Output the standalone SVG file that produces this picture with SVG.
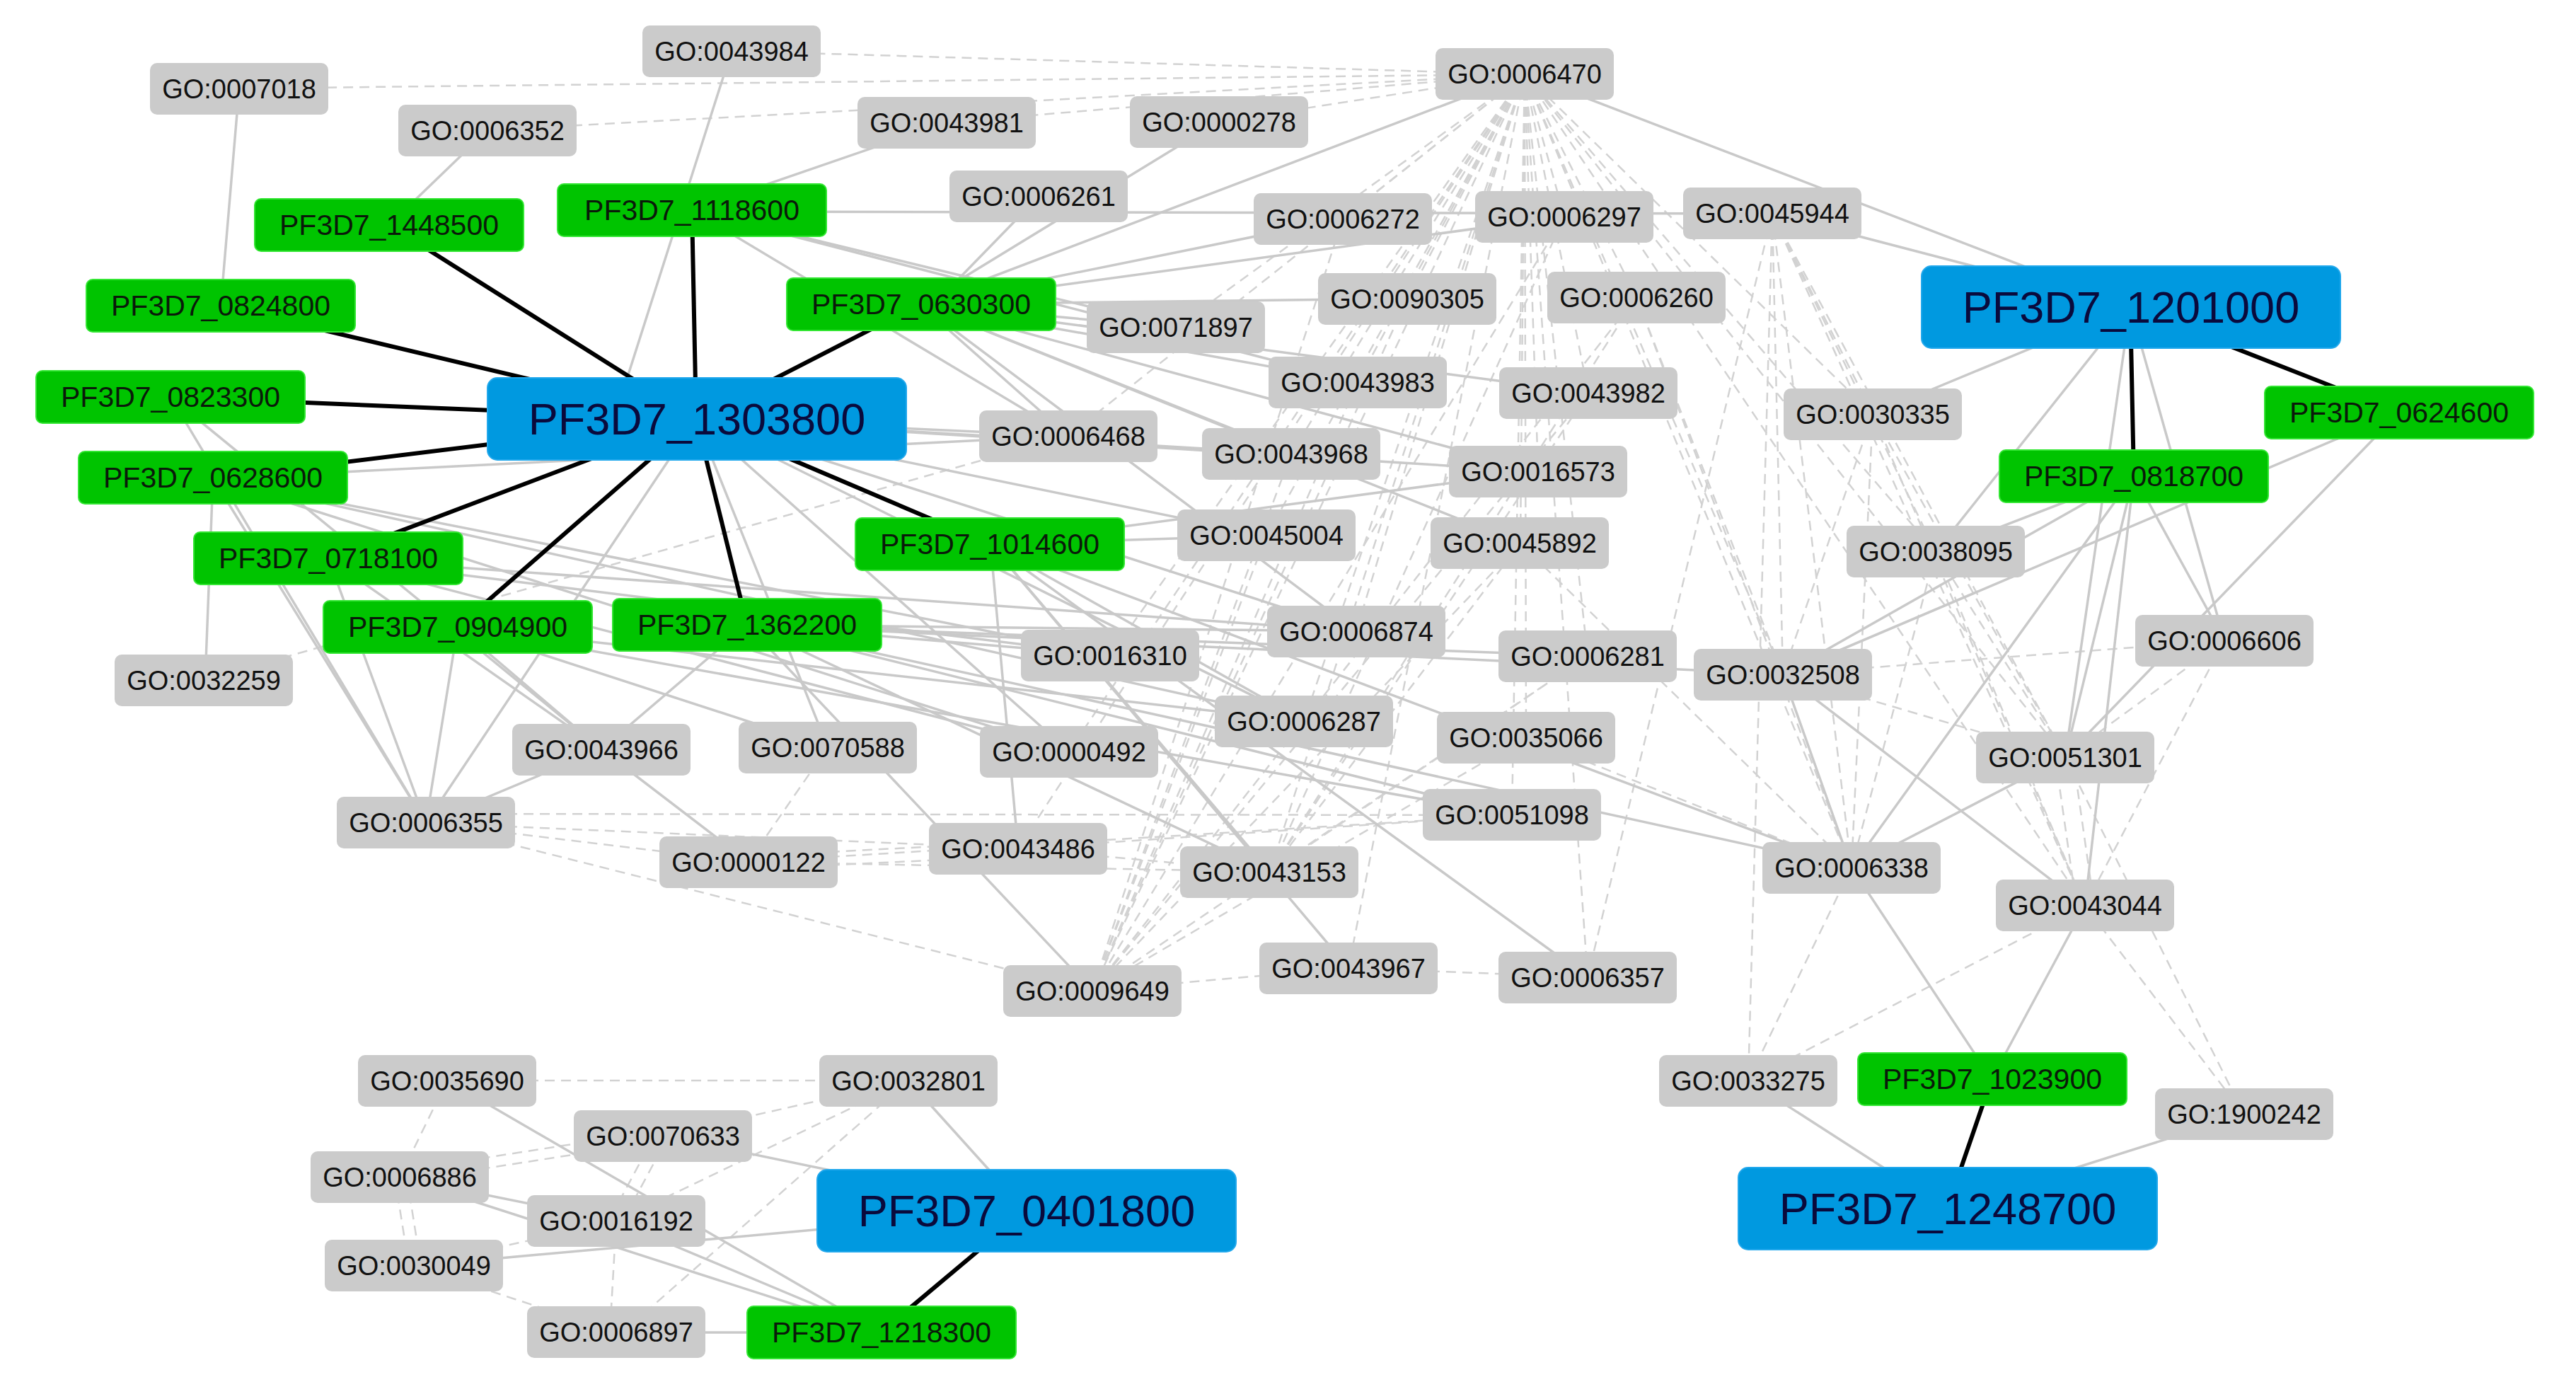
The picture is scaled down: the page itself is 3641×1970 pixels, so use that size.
<svg xmlns="http://www.w3.org/2000/svg" width="3641" height="1970" viewBox="0 0 3641 1970">
<style>
.s{stroke:#c9c9c9;stroke-width:3.5;fill:none}
.d{stroke:#d2d2d2;stroke-width:2.5;stroke-dasharray:14 9;fill:none}
.k{stroke:#000;stroke-width:6;fill:none}
.go rect{fill:#cbcbcb}
.go text{font-family:"Liberation Sans",Arial,sans-serif;font-size:38px;fill:#111;text-anchor:middle}
.gn rect{fill:#00c400;stroke:#33e633;stroke-width:2}
.gn text{font-family:"Liberation Sans",Arial,sans-serif;font-size:41px;fill:#0a1a0a;text-anchor:middle}
.bl rect{fill:#0099e0;stroke:#22a8ec;stroke-width:2}
.bl text{font-family:"Liberation Sans",Arial,sans-serif;font-size:63px;fill:#0a0a3c;text-anchor:middle}
</style>
<rect width="3641" height="1970" fill="#fff"/>
<g id="connectors">
<g id="dashed">
<line class="d" x1="2155" y1="105" x2="1034" y2="72"/>
<line class="d" x1="2155" y1="105" x2="338" y2="125"/>
<line class="d" x1="2155" y1="105" x2="689" y2="184"/>
<line class="d" x1="2155" y1="105" x2="1338" y2="173"/>
<line class="d" x1="2155" y1="105" x2="1722" y2="172"/>
<line class="d" x1="2155" y1="105" x2="1898" y2="309"/>
<line class="d" x1="2155" y1="105" x2="2211" y2="306"/>
<line class="d" x1="2155" y1="105" x2="1989" y2="422"/>
<line class="d" x1="2155" y1="105" x2="2313" y2="420"/>
<line class="d" x1="2155" y1="105" x2="1919" y2="540"/>
<line class="d" x1="2155" y1="105" x2="2245" y2="555"/>
<line class="d" x1="2155" y1="105" x2="2174" y2="666"/>
<line class="d" x1="2155" y1="105" x2="2149" y2="768"/>
<line class="d" x1="2155" y1="105" x2="1790" y2="757"/>
<line class="d" x1="2155" y1="105" x2="1917" y2="892"/>
<line class="d" x1="2155" y1="105" x2="2244" y2="927"/>
<line class="d" x1="2155" y1="105" x2="1843" y2="1019"/>
<line class="d" x1="2155" y1="105" x2="2157" y2="1042"/>
<line class="d" x1="2155" y1="105" x2="2137" y2="1152"/>
<line class="d" x1="2155" y1="105" x2="1795" y2="1232"/>
<line class="d" x1="2155" y1="105" x2="1439" y2="1199"/>
<line class="d" x1="2155" y1="105" x2="1544" y2="1400"/>
<line class="d" x1="2155" y1="105" x2="1906" y2="1368"/>
<line class="d" x1="2155" y1="105" x2="2244" y2="1381"/>
<line class="d" x1="2155" y1="105" x2="1510" y2="616"/>
<line class="d" x1="2155" y1="105" x2="1825" y2="641"/>
<line class="d" x1="2155" y1="105" x2="1569" y2="926"/>
<line class="d" x1="2155" y1="105" x2="1511" y2="1062"/>
<line class="d" x1="2155" y1="105" x2="2520" y2="953"/>
<line class="d" x1="2155" y1="105" x2="2617" y2="1226"/>
<line class="d" x1="2155" y1="105" x2="2919" y2="1070"/>
<line class="d" x1="2155" y1="105" x2="2647" y2="585"/>
<line class="d" x1="2155" y1="105" x2="2736" y2="780"/>
<line class="d" x1="2155" y1="105" x2="2947" y2="1280"/>
<line class="d" x1="2155" y1="105" x2="1662" y2="463"/>
<line class="d" x1="2505" y1="302" x2="2647" y2="585"/>
<line class="d" x1="2505" y1="302" x2="2520" y2="953"/>
<line class="d" x1="2505" y1="302" x2="2617" y2="1226"/>
<line class="d" x1="2505" y1="302" x2="2919" y2="1070"/>
<line class="d" x1="2505" y1="302" x2="2947" y2="1280"/>
<line class="d" x1="2505" y1="302" x2="2736" y2="780"/>
<line class="d" x1="2505" y1="302" x2="2471" y2="1527"/>
<line class="d" x1="2505" y1="302" x2="2244" y2="1381"/>
<line class="d" x1="1544" y1="1400" x2="1898" y2="309"/>
<line class="d" x1="1544" y1="1400" x2="2211" y2="306"/>
<line class="d" x1="1544" y1="1400" x2="1989" y2="422"/>
<line class="d" x1="1544" y1="1400" x2="2313" y2="420"/>
<line class="d" x1="1544" y1="1400" x2="1919" y2="540"/>
<line class="d" x1="1544" y1="1400" x2="2245" y2="555"/>
<line class="d" x1="1544" y1="1400" x2="2149" y2="768"/>
<line class="d" x1="1544" y1="1400" x2="1825" y2="641"/>
<line class="d" x1="1544" y1="1400" x2="2244" y2="927"/>
<line class="d" x1="1544" y1="1400" x2="1790" y2="757"/>
<line class="d" x1="1544" y1="1400" x2="2157" y2="1042"/>
<line class="d" x1="1795" y1="1232" x2="2211" y2="306"/>
<line class="d" x1="1795" y1="1232" x2="2313" y2="420"/>
<line class="d" x1="1795" y1="1232" x2="2245" y2="555"/>
<line class="d" x1="1795" y1="1232" x2="2149" y2="768"/>
<line class="d" x1="1795" y1="1232" x2="2244" y2="927"/>
<line class="d" x1="602" y1="1163" x2="1439" y2="1199"/>
<line class="d" x1="602" y1="1150" x2="2137" y2="1152"/>
<line class="d" x1="602" y1="1163" x2="1544" y2="1400"/>
<line class="d" x1="602" y1="1163" x2="1058" y2="1218"/>
<line class="d" x1="1058" y1="1210" x2="1439" y2="1190"/>
<line class="d" x1="1058" y1="1228" x2="1439" y2="1210"/>
<line class="d" x1="1058" y1="1218" x2="2137" y2="1152"/>
<line class="d" x1="1058" y1="1218" x2="1795" y2="1232"/>
<line class="d" x1="1439" y1="1199" x2="2137" y2="1152"/>
<line class="d" x1="1439" y1="1199" x2="1795" y2="1232"/>
<line class="d" x1="1544" y1="1400" x2="1906" y2="1368"/>
<line class="d" x1="1906" y1="1368" x2="2244" y2="1381"/>
<line class="d" x1="1170" y1="1056" x2="1058" y2="1218"/>
<line class="d" x1="288" y1="961" x2="1510" y2="616"/>
<line class="d" x1="2647" y1="585" x2="2617" y2="1226"/>
<line class="d" x1="2647" y1="585" x2="2947" y2="1280"/>
<line class="d" x1="2647" y1="585" x2="2919" y2="1070"/>
<line class="d" x1="2647" y1="585" x2="2520" y2="953"/>
<line class="d" x1="2520" y1="953" x2="3144" y2="905"/>
<line class="d" x1="2520" y1="953" x2="2919" y2="1070"/>
<line class="d" x1="3144" y1="905" x2="2919" y2="1070"/>
<line class="d" x1="3144" y1="905" x2="2947" y2="1280"/>
<line class="d" x1="2905" y1="1070" x2="2935" y2="1280"/>
<line class="d" x1="2930" y1="1070" x2="2960" y2="1280"/>
<line class="d" x1="2919" y1="1070" x2="2617" y2="1226"/>
<line class="d" x1="2471" y1="1527" x2="2617" y2="1226"/>
<line class="d" x1="2471" y1="1527" x2="2947" y2="1280"/>
<line class="d" x1="3172" y1="1575" x2="2947" y2="1280"/>
<line class="d" x1="3172" y1="1575" x2="2919" y2="1070"/>
<line class="d" x1="2736" y1="780" x2="2947" y2="1280"/>
<line class="d" x1="2736" y1="780" x2="2919" y2="1070"/>
<line class="d" x1="2736" y1="780" x2="2617" y2="1226"/>
<line class="d" x1="2313" y1="420" x2="2520" y2="953"/>
<line class="d" x1="2313" y1="420" x2="2617" y2="1226"/>
<line class="d" x1="2149" y1="768" x2="2617" y2="1226"/>
<line class="d" x1="2157" y1="1042" x2="2617" y2="1226"/>
<line class="d" x1="632" y1="1527" x2="1284" y2="1527"/>
<line class="d" x1="632" y1="1527" x2="565" y2="1664"/>
<line class="d" x1="565" y1="1655" x2="937" y2="1597"/>
<line class="d" x1="565" y1="1670" x2="937" y2="1612"/>
<line class="d" x1="558" y1="1664" x2="578" y2="1789"/>
<line class="d" x1="575" y1="1664" x2="595" y2="1789"/>
<line class="d" x1="585" y1="1789" x2="871" y2="1726"/>
<line class="d" x1="585" y1="1789" x2="871" y2="1883"/>
<line class="d" x1="925" y1="1605" x2="860" y2="1726"/>
<line class="d" x1="945" y1="1605" x2="880" y2="1726"/>
<line class="d" x1="1284" y1="1527" x2="937" y2="1605"/>
<line class="d" x1="1284" y1="1527" x2="871" y2="1726"/>
<line class="d" x1="1284" y1="1527" x2="880" y2="1883"/>
<line class="d" x1="871" y1="1726" x2="862" y2="1883"/>
</g>
<g id="solid">
<line class="s" x1="338" y1="125" x2="312" y2="432"/>
<line class="s" x1="689" y1="184" x2="550" y2="318"/>
<line class="s" x1="1034" y1="72" x2="883" y2="545"/>
<line class="s" x1="1338" y1="173" x2="978" y2="297"/>
<line class="s" x1="978" y1="299" x2="2505" y2="302"/>
<line class="s" x1="1300" y1="430" x2="2155" y2="105"/>
<line class="s" x1="1722" y1="172" x2="1300" y2="430"/>
<line class="s" x1="1468" y1="278" x2="1320" y2="430"/>
<line class="s" x1="1300" y1="430" x2="1898" y2="309"/>
<line class="s" x1="1300" y1="430" x2="2211" y2="306"/>
<line class="s" x1="1300" y1="430" x2="1989" y2="422"/>
<line class="s" x1="1300" y1="430" x2="1662" y2="463"/>
<line class="s" x1="1300" y1="430" x2="1919" y2="540"/>
<line class="s" x1="1300" y1="430" x2="2245" y2="555"/>
<line class="s" x1="1300" y1="430" x2="2174" y2="666"/>
<line class="s" x1="1300" y1="430" x2="1825" y2="641"/>
<line class="s" x1="1300" y1="430" x2="1917" y2="892"/>
<line class="s" x1="1300" y1="430" x2="1510" y2="616"/>
<line class="s" x1="1300" y1="430" x2="2149" y2="768"/>
<line class="s" x1="3011" y1="434" x2="2505" y2="302"/>
<line class="s" x1="3011" y1="434" x2="2155" y2="105"/>
<line class="s" x1="3011" y1="434" x2="2647" y2="585"/>
<line class="s" x1="3011" y1="434" x2="2736" y2="780"/>
<line class="s" x1="3011" y1="434" x2="2919" y2="1070"/>
<line class="s" x1="3011" y1="434" x2="3144" y2="905"/>
<line class="s" x1="3391" y1="583" x2="2919" y2="1070"/>
<line class="s" x1="3391" y1="583" x2="2520" y2="953"/>
<line class="s" x1="3016" y1="672" x2="2736" y2="780"/>
<line class="s" x1="3016" y1="672" x2="2520" y2="953"/>
<line class="s" x1="3016" y1="672" x2="2919" y2="1070"/>
<line class="s" x1="3016" y1="672" x2="2947" y2="1280"/>
<line class="s" x1="3016" y1="672" x2="3144" y2="905"/>
<line class="s" x1="3016" y1="672" x2="2617" y2="1226"/>
<line class="s" x1="2520" y1="953" x2="2617" y2="1226"/>
<line class="s" x1="2919" y1="1070" x2="2617" y2="1226"/>
<line class="s" x1="2520" y1="953" x2="2947" y2="1280"/>
<line class="s" x1="2815" y1="1525" x2="2617" y2="1226"/>
<line class="s" x1="2815" y1="1525" x2="2947" y2="1280"/>
<line class="s" x1="2752" y1="1708" x2="2471" y2="1527"/>
<line class="s" x1="2752" y1="1708" x2="3172" y2="1575"/>
<line class="s" x1="241" y1="561" x2="602" y2="1163"/>
<line class="s" x1="241" y1="561" x2="850" y2="1059"/>
<line class="s" x1="301" y1="676" x2="290" y2="961"/>
<line class="s" x1="301" y1="676" x2="602" y2="1163"/>
<line class="s" x1="301" y1="676" x2="1510" y2="616"/>
<line class="s" x1="301" y1="676" x2="1569" y2="926"/>
<line class="s" x1="301" y1="676" x2="1511" y2="1062"/>
<line class="s" x1="301" y1="676" x2="1843" y2="1019"/>
<line class="s" x1="464" y1="789" x2="602" y2="1163"/>
<line class="s" x1="464" y1="789" x2="850" y2="1059"/>
<line class="s" x1="464" y1="789" x2="1569" y2="926"/>
<line class="s" x1="464" y1="789" x2="1917" y2="892"/>
<line class="s" x1="464" y1="789" x2="1511" y2="1062"/>
<line class="s" x1="647" y1="886" x2="602" y2="1163"/>
<line class="s" x1="647" y1="886" x2="850" y2="1059"/>
<line class="s" x1="647" y1="886" x2="1170" y2="1056"/>
<line class="s" x1="647" y1="886" x2="2137" y2="1152"/>
<line class="s" x1="647" y1="886" x2="1843" y2="1019"/>
<line class="s" x1="1056" y1="883" x2="850" y2="1059"/>
<line class="s" x1="1056" y1="883" x2="1569" y2="926"/>
<line class="s" x1="1056" y1="883" x2="1917" y2="892"/>
<line class="s" x1="1056" y1="883" x2="2244" y2="927"/>
<line class="s" x1="1056" y1="883" x2="2520" y2="953"/>
<line class="s" x1="1056" y1="883" x2="2137" y2="1152"/>
<line class="s" x1="1056" y1="883" x2="2617" y2="1226"/>
<line class="s" x1="1056" y1="883" x2="1544" y2="1400"/>
<line class="s" x1="1056" y1="883" x2="1795" y2="1232"/>
<line class="s" x1="602" y1="1163" x2="850" y2="1059"/>
<line class="s" x1="850" y1="1059" x2="1058" y2="1218"/>
<line class="s" x1="984" y1="592" x2="1510" y2="616"/>
<line class="s" x1="984" y1="592" x2="1825" y2="641"/>
<line class="s" x1="984" y1="592" x2="1790" y2="757"/>
<line class="s" x1="984" y1="592" x2="2174" y2="666"/>
<line class="s" x1="984" y1="592" x2="1917" y2="892"/>
<line class="s" x1="984" y1="592" x2="1843" y2="1019"/>
<line class="s" x1="984" y1="592" x2="1511" y2="1062"/>
<line class="s" x1="984" y1="592" x2="1170" y2="1056"/>
<line class="s" x1="984" y1="592" x2="602" y2="1163"/>
<line class="s" x1="1400" y1="769" x2="1790" y2="757"/>
<line class="s" x1="1400" y1="769" x2="2174" y2="666"/>
<line class="s" x1="1400" y1="769" x2="1843" y2="1019"/>
<line class="s" x1="1400" y1="769" x2="2617" y2="1226"/>
<line class="s" x1="1400" y1="769" x2="1795" y2="1232"/>
<line class="s" x1="1400" y1="769" x2="1439" y2="1199"/>
<line class="s" x1="1400" y1="769" x2="2244" y2="1381"/>
<line class="s" x1="1400" y1="769" x2="1906" y2="1368"/>
<line class="s" x1="978" y1="297" x2="1662" y2="463"/>
<line class="s" x1="978" y1="297" x2="1510" y2="616"/>
<line class="s" x1="978" y1="297" x2="1919" y2="540"/>
<line class="s" x1="632" y1="1527" x2="1245" y2="1883"/>
<line class="s" x1="565" y1="1664" x2="871" y2="1726"/>
<line class="s" x1="565" y1="1664" x2="1245" y2="1883"/>
<line class="s" x1="585" y1="1789" x2="1450" y2="1711"/>
<line class="s" x1="937" y1="1605" x2="1450" y2="1711"/>
<line class="s" x1="871" y1="1883" x2="1245" y2="1883"/>
<line class="s" x1="1284" y1="1527" x2="1450" y2="1711"/>
<line class="s" x1="871" y1="1726" x2="1245" y2="1883"/>
</g>
<g id="black">
<line class="k" x1="984" y1="592" x2="550" y2="318"/>
<line class="k" x1="984" y1="592" x2="978" y2="297"/>
<line class="k" x1="984" y1="592" x2="312" y2="432"/>
<line class="k" x1="984" y1="592" x2="241" y2="561"/>
<line class="k" x1="984" y1="592" x2="301" y2="676"/>
<line class="k" x1="984" y1="592" x2="464" y2="789"/>
<line class="k" x1="984" y1="592" x2="647" y2="886"/>
<line class="k" x1="984" y1="592" x2="1056" y2="883"/>
<line class="k" x1="984" y1="592" x2="1400" y2="769"/>
<line class="k" x1="984" y1="592" x2="1300" y2="430"/>
<line class="k" x1="3011" y1="434" x2="3391" y2="583"/>
<line class="k" x1="3011" y1="434" x2="3016" y2="672"/>
<line class="k" x1="1450" y1="1711" x2="1245" y2="1883"/>
<line class="k" x1="2752" y1="1708" x2="2815" y2="1525"/>
</g>
</g>
<g id="nodes">
<g id="GO_0043984" class="go"><rect x="908" y="36" width="252" height="73" rx="10"/><text x="1034" y="86">GO:0043984</text></g>
<g id="GO_0007018" class="go"><rect x="212" y="89" width="252" height="73" rx="10"/><text x="338" y="139">GO:0007018</text></g>
<g id="GO_0006352" class="go"><rect x="563" y="148" width="252" height="73" rx="10"/><text x="689" y="198">GO:0006352</text></g>
<g id="GO_0043981" class="go"><rect x="1212" y="137" width="252" height="73" rx="10"/><text x="1338" y="187">GO:0043981</text></g>
<g id="GO_0000278" class="go"><rect x="1597" y="136" width="252" height="73" rx="10"/><text x="1723" y="186">GO:0000278</text></g>
<g id="GO_0006470" class="go"><rect x="2029" y="68" width="252" height="73" rx="10"/><text x="2155" y="118">GO:0006470</text></g>
<g id="GO_0006261" class="go"><rect x="1342" y="241" width="252" height="73" rx="10"/><text x="1468" y="291">GO:0006261</text></g>
<g id="GO_0006272" class="go"><rect x="1772" y="273" width="252" height="73" rx="10"/><text x="1898" y="323">GO:0006272</text></g>
<g id="GO_0006297" class="go"><rect x="2085" y="270" width="252" height="73" rx="10"/><text x="2211" y="320">GO:0006297</text></g>
<g id="GO_0045944" class="go"><rect x="2379" y="265" width="252" height="73" rx="10"/><text x="2505" y="315">GO:0045944</text></g>
<g id="GO_0090305" class="go"><rect x="1863" y="386" width="252" height="73" rx="10"/><text x="1989" y="436">GO:0090305</text></g>
<g id="GO_0006260" class="go"><rect x="2187" y="384" width="252" height="73" rx="10"/><text x="2313" y="434">GO:0006260</text></g>
<g id="GO_0071897" class="go"><rect x="1536" y="426" width="252" height="73" rx="10"/><text x="1662" y="476">GO:0071897</text></g>
<g id="GO_0043983" class="go"><rect x="1793" y="504" width="252" height="73" rx="10"/><text x="1919" y="554">GO:0043983</text></g>
<g id="GO_0043982" class="go"><rect x="2119" y="519" width="252" height="73" rx="10"/><text x="2245" y="569">GO:0043982</text></g>
<g id="GO_0030335" class="go"><rect x="2521" y="549" width="252" height="73" rx="10"/><text x="2647" y="599">GO:0030335</text></g>
<g id="GO_0006468" class="go"><rect x="1384" y="580" width="252" height="73" rx="10"/><text x="1510" y="630">GO:0006468</text></g>
<g id="GO_0043968" class="go"><rect x="1699" y="605" width="252" height="73" rx="10"/><text x="1825" y="655">GO:0043968</text></g>
<g id="GO_0016573" class="go"><rect x="2048" y="630" width="252" height="73" rx="10"/><text x="2174" y="680">GO:0016573</text></g>
<g id="GO_0045004" class="go"><rect x="1664" y="720" width="252" height="73" rx="10"/><text x="1790" y="770">GO:0045004</text></g>
<g id="GO_0045892" class="go"><rect x="2022" y="731" width="252" height="73" rx="10"/><text x="2148" y="781">GO:0045892</text></g>
<g id="GO_0038095" class="go"><rect x="2610" y="743" width="252" height="73" rx="10"/><text x="2736" y="793">GO:0038095</text></g>
<g id="GO_0006874" class="go"><rect x="1791" y="856" width="252" height="73" rx="10"/><text x="1917" y="906">GO:0006874</text></g>
<g id="GO_0016310" class="go"><rect x="1443" y="890" width="252" height="73" rx="10"/><text x="1569" y="940">GO:0016310</text></g>
<g id="GO_0006281" class="go"><rect x="2118" y="891" width="252" height="73" rx="10"/><text x="2244" y="941">GO:0006281</text></g>
<g id="GO_0032508" class="go"><rect x="2394" y="917" width="252" height="73" rx="10"/><text x="2520" y="967">GO:0032508</text></g>
<g id="GO_0006606" class="go"><rect x="3018" y="869" width="252" height="73" rx="10"/><text x="3144" y="919">GO:0006606</text></g>
<g id="GO_0032259" class="go"><rect x="162" y="925" width="252" height="73" rx="10"/><text x="288" y="975">GO:0032259</text></g>
<g id="GO_0006287" class="go"><rect x="1717" y="983" width="252" height="73" rx="10"/><text x="1843" y="1033">GO:0006287</text></g>
<g id="GO_0035066" class="go"><rect x="2031" y="1006" width="252" height="73" rx="10"/><text x="2157" y="1056">GO:0035066</text></g>
<g id="GO_0000492" class="go"><rect x="1385" y="1026" width="252" height="73" rx="10"/><text x="1511" y="1076">GO:0000492</text></g>
<g id="GO_0043966" class="go"><rect x="724" y="1023" width="252" height="73" rx="10"/><text x="850" y="1073">GO:0043966</text></g>
<g id="GO_0070588" class="go"><rect x="1044" y="1020" width="252" height="73" rx="10"/><text x="1170" y="1070">GO:0070588</text></g>
<g id="GO_0051301" class="go"><rect x="2793" y="1034" width="252" height="73" rx="10"/><text x="2919" y="1084">GO:0051301</text></g>
<g id="GO_0006355" class="go"><rect x="476" y="1126" width="252" height="73" rx="10"/><text x="602" y="1176">GO:0006355</text></g>
<g id="GO_0051098" class="go"><rect x="2011" y="1115" width="252" height="73" rx="10"/><text x="2137" y="1165">GO:0051098</text></g>
<g id="GO_0000122" class="go"><rect x="932" y="1182" width="252" height="73" rx="10"/><text x="1058" y="1232">GO:0000122</text></g>
<g id="GO_0043486" class="go"><rect x="1313" y="1163" width="252" height="73" rx="10"/><text x="1439" y="1213">GO:0043486</text></g>
<g id="GO_0043153" class="go"><rect x="1668" y="1196" width="252" height="73" rx="10"/><text x="1794" y="1246">GO:0043153</text></g>
<g id="GO_0006338" class="go"><rect x="2491" y="1190" width="252" height="73" rx="10"/><text x="2617" y="1240">GO:0006338</text></g>
<g id="GO_0043044" class="go"><rect x="2821" y="1243" width="252" height="73" rx="10"/><text x="2947" y="1293">GO:0043044</text></g>
<g id="GO_0009649" class="go"><rect x="1418" y="1364" width="252" height="73" rx="10"/><text x="1544" y="1414">GO:0009649</text></g>
<g id="GO_0043967" class="go"><rect x="1780" y="1332" width="252" height="73" rx="10"/><text x="1906" y="1382">GO:0043967</text></g>
<g id="GO_0006357" class="go"><rect x="2118" y="1345" width="252" height="73" rx="10"/><text x="2244" y="1395">GO:0006357</text></g>
<g id="GO_0035690" class="go"><rect x="506" y="1491" width="252" height="73" rx="10"/><text x="632" y="1541">GO:0035690</text></g>
<g id="GO_0032801" class="go"><rect x="1158" y="1491" width="252" height="73" rx="10"/><text x="1284" y="1541">GO:0032801</text></g>
<g id="GO_0033275" class="go"><rect x="2345" y="1491" width="252" height="73" rx="10"/><text x="2471" y="1541">GO:0033275</text></g>
<g id="GO_1900242" class="go"><rect x="3046" y="1538" width="252" height="73" rx="10"/><text x="3172" y="1588">GO:1900242</text></g>
<g id="GO_0070633" class="go"><rect x="811" y="1569" width="252" height="73" rx="10"/><text x="937" y="1619">GO:0070633</text></g>
<g id="GO_0006886" class="go"><rect x="439" y="1627" width="252" height="73" rx="10"/><text x="565" y="1677">GO:0006886</text></g>
<g id="GO_0016192" class="go"><rect x="745" y="1689" width="252" height="73" rx="10"/><text x="871" y="1739">GO:0016192</text></g>
<g id="GO_0030049" class="go"><rect x="459" y="1752" width="252" height="73" rx="10"/><text x="585" y="1802">GO:0030049</text></g>
<g id="GO_0006897" class="go"><rect x="745" y="1846" width="252" height="73" rx="10"/><text x="871" y="1896">GO:0006897</text></g>

<g id="PF3D7_1448500" class="gn"><rect x="360" y="281" width="380" height="74" rx="9"/><text x="550" y="332">PF3D7_1448500</text></g>
<g id="PF3D7_1118600" class="gn"><rect x="788" y="260" width="380" height="74" rx="9"/><text x="978" y="311">PF3D7_1118600</text></g>
<g id="PF3D7_0824800" class="gn"><rect x="122" y="395" width="380" height="74" rx="9"/><text x="312" y="446">PF3D7_0824800</text></g>
<g id="PF3D7_0630300" class="gn"><rect x="1112" y="393" width="380" height="74" rx="9"/><text x="1302" y="444">PF3D7_0630300</text></g>
<g id="PF3D7_0823300" class="gn"><rect x="51" y="524" width="380" height="74" rx="9"/><text x="241" y="575">PF3D7_0823300</text></g>
<g id="PF3D7_0628600" class="gn"><rect x="111" y="638" width="380" height="74" rx="9"/><text x="301" y="689">PF3D7_0628600</text></g>
<g id="PF3D7_0624600" class="gn"><rect x="3201" y="546" width="380" height="74" rx="9"/><text x="3391" y="597">PF3D7_0624600</text></g>
<g id="PF3D7_0818700" class="gn"><rect x="2826" y="636" width="380" height="74" rx="9"/><text x="3016" y="687">PF3D7_0818700</text></g>
<g id="PF3D7_0718100" class="gn"><rect x="274" y="752" width="380" height="74" rx="9"/><text x="464" y="803">PF3D7_0718100</text></g>
<g id="PF3D7_1014600" class="gn"><rect x="1209" y="732" width="380" height="74" rx="9"/><text x="1399" y="783">PF3D7_1014600</text></g>
<g id="PF3D7_0904900" class="gn"><rect x="457" y="849" width="380" height="74" rx="9"/><text x="647" y="900">PF3D7_0904900</text></g>
<g id="PF3D7_1362200" class="gn"><rect x="866" y="846" width="380" height="74" rx="9"/><text x="1056" y="897">PF3D7_1362200</text></g>
<g id="PF3D7_1023900" class="gn"><rect x="2626" y="1488" width="380" height="74" rx="9"/><text x="2816" y="1539">PF3D7_1023900</text></g>
<g id="PF3D7_1218300" class="gn"><rect x="1056" y="1846" width="380" height="74" rx="9"/><text x="1246" y="1897">PF3D7_1218300</text></g>

<g id="PF3D7_1303800" class="bl"><rect x="689" y="534" width="592" height="116" rx="14"/><text x="985" y="614">PF3D7_1303800</text></g>
<g id="PF3D7_1201000" class="bl"><rect x="2716" y="376" width="592" height="116" rx="14"/><text x="3012" y="456">PF3D7_1201000</text></g>
<g id="PF3D7_0401800" class="bl"><rect x="1155" y="1653" width="592" height="116" rx="14"/><text x="1451" y="1733">PF3D7_0401800</text></g>
<g id="PF3D7_1248700" class="bl"><rect x="2457" y="1650" width="592" height="116" rx="14"/><text x="2753" y="1730">PF3D7_1248700</text></g>
</g>
</svg>
